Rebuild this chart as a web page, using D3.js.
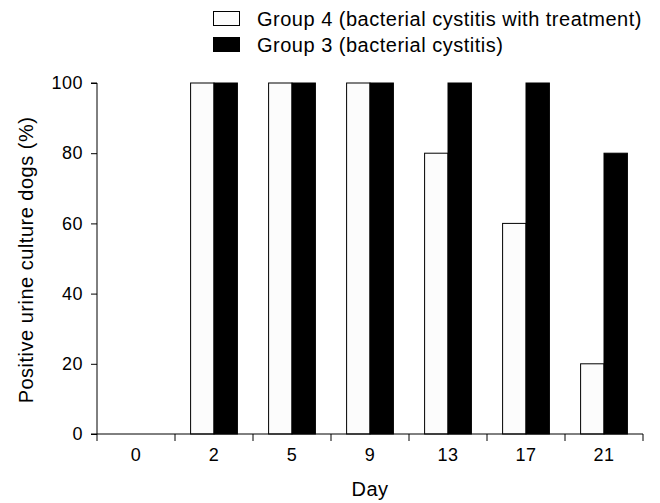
<!DOCTYPE html>
<html>
<head>
<meta charset="utf-8">
<script src="https://cdn.jsdelivr.net/npm/d3@7"></script>
<style>
  body { margin: 0; background: #fff; }
  text { font-family: "Liberation Sans", Arial, sans-serif; fill: #000; }
</style>
</head>
<body>
<svg id="chart" width="660" height="503"></svg>
<script>
// データ
const days = ["0", "2", "5", "9", "13", "17", "21"];
const group4 = [0, 100, 100, 100, 80, 60, 20];   // 治療あり
const group3 = [0, 100, 100, 100, 100, 100, 80]; // 治療なし
const seriesNames = ["Group 4 (bacterial cystitis with treatment)", "Group 3 (bacterial cystitis)"];
const yTicks = [0, 20, 40, 60, 80, 100];

const margin = {top: 83, right: 17, bottom: 69, left: 97},
    width = 660 - margin.left - margin.right,
    height = 503 - margin.top - margin.bottom;

const svg = d3.select("#chart")
    .append("g")
    .attr("transform", `translate(${margin.left},${margin.top})`);

const x = d3.scaleBand().domain(days).range([0, width]);
const x1 = d3.scaleBand().domain([0, 1]).range([x.bandwidth() * 0.2, x.bandwidth() * 0.8]);
const y = d3.scaleLinear().domain([0, 100]).range([height, 0]);

// 棒
const data = days.map((d, i) => ({day: d, values: [group4[i], group3[i]]}));
const groups = svg.selectAll(".grp")
    .data(data)
    .join("g")
    .attr("transform", d => `translate(${x(d.day)},0)`);

groups.selectAll("rect")
    .data(d => d.values.map((v, k) => ({k, v})).filter(e => e.v > 0))
    .join("rect")
    .attr("x", e => x1(e.k))
    .attr("y", e => y(e.v))
    .attr("width", x1.bandwidth())
    .attr("height", e => y(0) - y(e.v))
    .attr("fill", e => e.k === 0 ? "#fcfcfc" : "#000")
    .attr("stroke", "#000")
    .attr("stroke-width", 1);

// Y軸
svg.append("g")
    .call(d3.axisLeft(y).tickValues(yTicks).tickSize(6).tickPadding(8))
    .call(g => g.select(".domain").attr("d", `M-6,${y(100)}H0V${y(0)}`))
    .call(g => g.selectAll("text").style("font-size", "18px").style("letter-spacing", "0.5px"));

// X軸（区切り目盛り）
const xg = svg.append("g")
    .attr("transform", `translate(0,${height})`);
xg.append("line")
    .attr("x1", -6).attr("x2", width)
    .attr("stroke", "#000");
xg.selectAll(".sep")
    .data(days.map(d => x(d)).concat([width]))
    .join("line")
    .attr("x1", d => d).attr("x2", d => d)
    .attr("y1", 0).attr("y2", 7)
    .attr("stroke", "#000");
xg.selectAll(".lbl")
    .data(days)
    .join("text")
    .attr("x", d => x(d) + x.bandwidth() / 2)
    .attr("y", 27)
    .attr("text-anchor", "middle")
    .style("font-size", "18px")
    .style("letter-spacing", "0.5px")
    .text(d => d);

// 軸タイトル
svg.append("text")
    .attr("x", width / 2)
    .attr("y", height + 62)
    .attr("text-anchor", "middle")
    .style("font-size", "20px")
    .style("letter-spacing", "0.5px")
    .text("Day");

svg.append("text")
    .attr("transform", `translate(${33 - margin.left},${260 - margin.top}) rotate(-90)`)
    .attr("text-anchor", "middle")
    .style("font-size", "20px")
    .style("letter-spacing", "0.5px")
    .text("Positive urine culture dogs (%)");

// 凡例
const legend = d3.select("#chart").append("g")
    .attr("transform", "translate(213,11)");
const li = legend.selectAll("g")
    .data(seriesNames)
    .join("g")
    .attr("transform", (d, i) => `translate(0,${i * 26})`);
li.append("rect")
    .attr("x", 0.5).attr("y", 0.5)
    .attr("width", 26).attr("height", 14)
    .attr("fill", (d, i) => i === 0 ? "#fcfcfc" : "#000")
    .attr("stroke", "#000");
li.append("text")
    .attr("x", 44).attr("y", 14.5)
    .style("font-size", "20px")
    .style("letter-spacing", "0.5px")
    .text(d => d);
</script>
</body>
</html>
